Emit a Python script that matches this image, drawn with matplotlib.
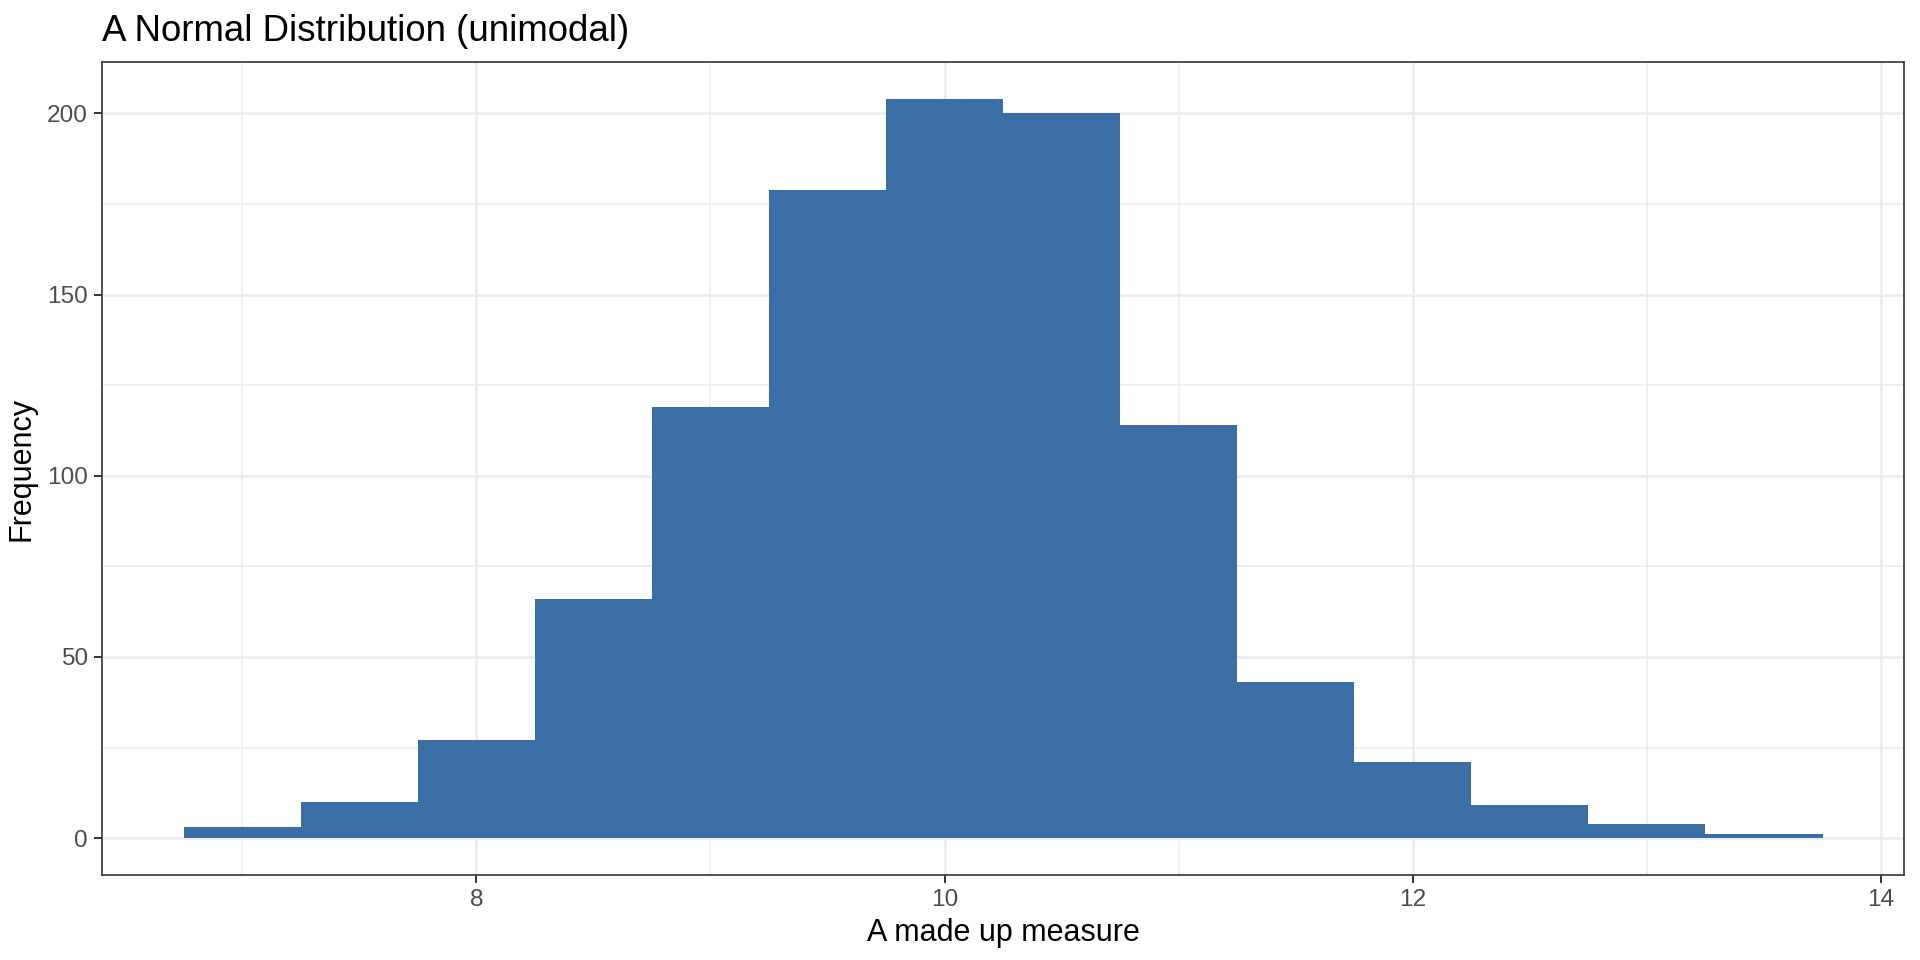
import numpy as np
import matplotlib
matplotlib.use("Agg")
import matplotlib.pyplot as plt
from matplotlib.ticker import MultipleLocator

# histogram data (bin width 0.5)
bin_left = [6.75, 7.25, 7.75, 8.25, 8.75, 9.25, 9.75, 10.25, 10.75, 11.25, 11.75, 12.25, 12.75, 13.25]
counts = [3, 10, 27, 66, 119, 179, 204, 200, 114, 43, 21, 9, 4, 1]
bin_width = 0.5

title = "A Normal Distribution (unimodal)"
xlabel = "A made up measure"
ylabel = "Frequency"
x_ticks = [8, 10, 12, 14]
y_ticks = [0, 50, 100, 150, 200]

plt.rcParams['font.family'] = ['Liberation Sans', 'DejaVu Sans']

fig = plt.figure(figsize=(9.6, 4.8), dpi=200)
ax = fig.add_axes([0.053, 0.0885, 0.9389, 0.8469])

ax.bar(bin_left, counts, width=bin_width, align='edge', color='#3A6EA5', linewidth=0, zorder=3)

# limits with ggplot-like expansion
xmin, xmax = bin_left[0], bin_left[-1] + bin_width
xr = xmax - xmin
ax.set_xlim(xmin - 0.05 * xr, xmax + 0.05 * xr)
ymax = max(counts)
ax.set_ylim(-0.05 * ymax, ymax * 1.05)

ax.set_xticks(x_ticks)
ax.set_yticks(y_ticks)
ax.xaxis.set_minor_locator(MultipleLocator(1))
ax.yaxis.set_minor_locator(MultipleLocator(25))

ax.grid(which='major', color='#EBEBEB', linewidth=0.9, zorder=0)
ax.grid(which='minor', color='#EBEBEB', linewidth=0.55, zorder=0)
ax.set_axisbelow(True)

ax.tick_params(which='major', length=2.75, width=0.7, color='#333333',
               labelsize=8.8, labelcolor='#4D4D4D', pad=2.2)
ax.tick_params(which='minor', length=0)
for s in ax.spines.values():
    s.set_color('#333333')
    s.set_linewidth(0.6)

ax.set_xlabel(xlabel, fontsize=11, labelpad=2.5)
ax.set_ylabel(ylabel, fontsize=11, labelpad=4)
ax.set_title(title, loc='left', fontsize=13.2, pad=7.7)

fig.savefig('out.png', dpi=200)
